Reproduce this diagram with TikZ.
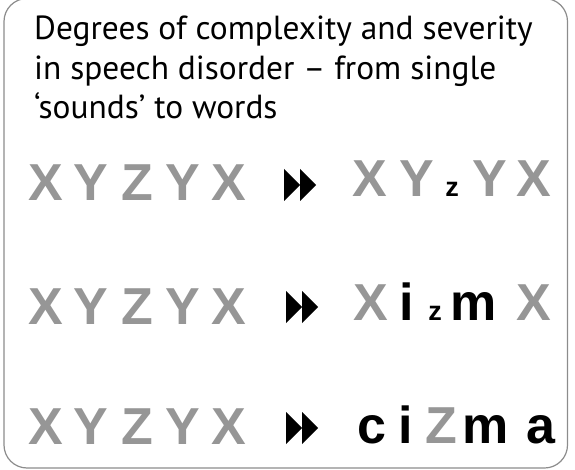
\documentclass[tikz,border=0pt]{standalone}
\usepackage{fontspec}
\newfontfamily\titlefont{PT Sans}
\newfontfamily\letterfont{Liberation Sans}
\definecolor{lettergray}{RGB}{150,150,150}
\definecolor{framegray}{RGB}{140,140,140}
\begin{document}
\begin{tikzpicture}[x=1pt,y=-1pt,
  titletext/.style={anchor=base west,inner sep=0,font=\titlefont\fontsize{33.4}{40}\selectfont},
  big/.style={anchor=base,inner sep=0,font=\letterfont\bfseries\fontsize{52}{52}\selectfont},
  graybig/.style={big,text=lettergray},
  blackbig/.style={big,text=black},
  smallz/.style={anchor=base,inner sep=0,font=\letterfont\bfseries\fontsize{27}{27}\selectfont,text=black},
  fastfwd/.style={fill=black},
  framebox/.style={draw=framegray,line width=1.2pt,rounded corners=23pt}]
\useasboundingbox (0,0) rectangle (575,470);
\draw[framebox] (4,-1.5) rectangle (567.5,468);
% title
\node[titletext] (t1) at (34,40) {Degrees of complexity and severity};
\node[titletext] (t2) at (34,80) {in speech disorder – from single};
\node[titletext] (t3) at (34,119) {‘sounds’ to words};
% left columns
\foreach \row/\base in {1/201,2/324,3/444}{
  \foreach \l/\x [count=\i] in {X/46,Y/91,Z/137,Y/183,X/229}
    \node[graybig] (l\row\i) at (\x,\base) {\l};
}
% arrows
\foreach \row/\x/\b in {1/284/201,2/286/323,3/286/444}{
  \fill[fastfwd] (\x,\b-32) -- (\x+16,\b-16) -- (\x,\b) -- cycle;
  \fill[fastfwd] (\x+16,\b-32) -- (\x+32,\b-16) -- (\x+16,\b) -- cycle;
}
% row 1 right
\node[graybig] (a1) at (370,197) {X};
\node[graybig] (a2) at (417,197) {Y};
\node[smallz] (a3) at (452,197) {z};
\node[graybig] (a4) at (490,197) {Y};
\node[graybig] (a5) at (534,197) {X};
% row 2 right
\node[graybig] (b1) at (371,320) {X};
\node[blackbig] (b2) at (407,320) {i};
\node[smallz] (b3) at (435,320) {z};
\node[blackbig] (b4) at (474,320) {m};
\node[graybig] (b5) at (534,320) {X};
% row 3 right
\node[blackbig] (c1) at (372,443) {c};
\node[blackbig] (c2) at (406,443) {i};
\node[graybig] (c3) at (441,443) {Z};
\node[blackbig] (c4) at (486,443) {m};
\node[blackbig] (c5) at (541,443) {a};
\end{tikzpicture}
\end{document}
